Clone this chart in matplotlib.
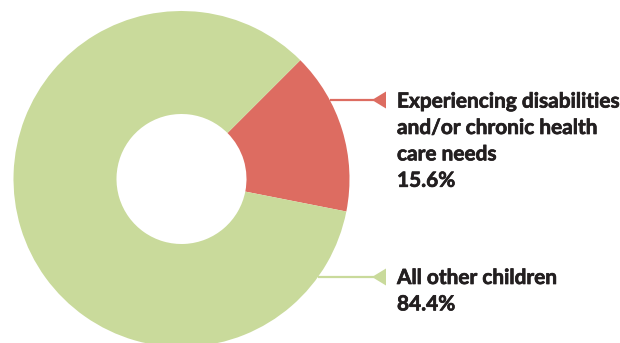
import matplotlib
matplotlib.use("Agg")
import matplotlib.pyplot as plt
import matplotlib.patheffects as pe
from matplotlib.patches import Polygon
import numpy as np

# Share of children by health-care needs
categories = ["Experiencing disabilities\nand/or chronic health\ncare needs", "All other children"]
shares = [15.6, 84.4]
colors = ["#DD6C61", "#C9DA9B"]

W, H = 620, 343
fig = plt.figure(figsize=(W / 100, H / 100), dpi=100)
ax = fig.add_axes([0, 0, 1, 1])

cx, cy = 181.5, H - 179
r_out, r_in = 168, 65
wedges, _ = ax.pie(shares, colors=colors, startangle=45, counterclock=False,
                   center=(cx, cy), radius=r_out,
                   wedgeprops=dict(width=r_out - r_in, linewidth=0))

ax.set_xlim(0, W)
ax.set_ylim(0, H)
ax.set_aspect("equal")
ax.axis("off")

text_x = 397
tri_tip, tri_base, tri_half = 372, 386, 8.5
leader_y = [H - 100, H - 277]
line_gap = 26.7
font = ["Lato", "DejaVu Sans"]
ink = "#231F20"

for name, val, col, ly in zip(categories, shares, colors, leader_y):
    # leader from the ring's outer edge to the marker
    x0 = cx + np.sqrt(r_out ** 2 - (ly - cy) ** 2)
    ax.plot([x0, tri_tip + 2], [ly, ly], color=col, lw=1.6, solid_capstyle="butt", zorder=3)
    ax.add_patch(Polygon([[tri_tip, ly], [tri_base, ly + tri_half], [tri_base, ly - tri_half]],
                         closed=True, facecolor=col, edgecolor="none", zorder=4))
    label = f"{name}\n{val:.1f}%"
    n_lines = label.count("\n") + 1
    # baseline of the last line sits below the leader
    ax.text(text_x, ly - 6.7 - (n_lines - 1) * line_gap, label, ha="left", va="baseline",
            family=font, fontweight="bold", fontsize=15, color=ink, linespacing=1.4,
            path_effects=[pe.withStroke(linewidth=0.5, foreground=ink)])

fig.savefig("out.png", dpi=100)
